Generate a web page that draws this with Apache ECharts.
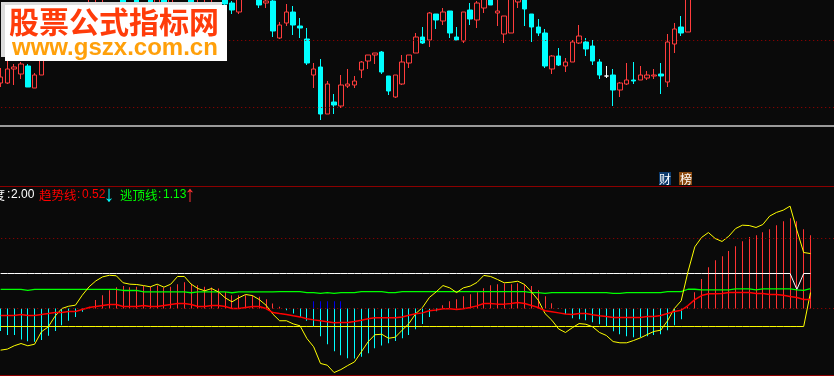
<!DOCTYPE html>
<html>
<head>
<meta charset="utf-8">
<title>股票公式指标网</title>
<script src="https://cdn.jsdelivr.net/npm/echarts@6/dist/echarts.min.js"></script>
<style>
html, body { margin: 0; padding: 0; background: #0a0a0a; }
#main { width: 834px; height: 376px; }
</style>
</head>
<body>
<div id="main"></div>
<script>
/*-----K线数据 S------*/
var openList = [
	47,47,61,56,64,42,55,88,80,96,
	106,90,108,102,104,108,120,100,130,106,
	130,110,131,118,131,118,124,106,131,104,
	108,110,120,135,127,118,150,134,138,127,
	129,92,107,118,104,91,55,63,16,28,
	24,44,45,60,69,75,78,54,33,46,
	67,77,93,90,116,109,119,93,89,120,
	110,122,133,117,96,97,128,133,116,103,
	97,61,74,64,68,87,88,84,68,54,
	55,40,46,50,50,52,54,56,48,86,
	103,98
];
var closeList = [
	53,61,63,66,43,55,90,75,100,108,
	92,104,96,118,122,124,104,116,112,120,
	116,122,114,132,120,132,110,122,116,120,
	124,126,104,126,120,134,134,148,125,129,
	99,105,118,105,102,67,61,16,46,25,
	45,46,49,68,75,77,58,39,55,68,
	75,93,87,117,110,118,97,90,118,111,
	127,133,125,119,114,135,132,121,103,97,
	64,74,65,68,88,94,81,69,55,54,
	40,47,50,49,55,55,55,54,88,101,
	97,138
];
var lowList = [
	43,46,45,51,43,42,55,72,78,92,
	88,86,92,100,100,104,100,96,106,102,
	112,106,110,114,116,114,106,102,112,100,
	104,106,100,124,116,116,133,133,122,122,
	93,91,104,95,92,65,42,10,16,16,
	22,42,42,52,61,66,56,35,32,45,
	62,77,86,83,101,105,92,90,87,105,
	102,117,125,104,87,97,122,104,88,94,
	62,56,64,58,68,86,74,65,51,52,
	24,33,45,46,50,50,51,36,43,77,
	94,98
];
var highList = [
	62,75,66,68,66,57,94,92,105,112,
	110,110,112,132,131,130,126,122,133,126,
	132,126,133,134,133,134,128,126,133,132,
	131,131,126,137,129,136,152,150,140,135,
	131,108,126,124,112,102,67,71,49,36,
	55,61,54,69,75,77,79,54,55,75,
	75,97,103,118,116,122,119,103,118,127,
	129,135,135,132,114,136,134,135,116,111,
	101,75,82,72,90,105,92,90,71,64,
	61,48,67,68,64,59,61,67,96,107,
	114,140
];
/*-----K线数据 E------*/

/*-----指标数据 S------*/
var barList = [
	-1.28,-1.52,-1.52,-1.77,-1.87,-1.9,-1.8,-1.56,-1.28,-.95,
	-.7,-.48,-.19,.1,.48,.76,1.05,1.22,1.28,1.22,
	1.24,1.28,1.24,1.31,1.2,1.24,1.39,1.5,1.41,1.33,
	1.24,1.2,1.14,.95,.76,.76,.76,.74,.67,.53,
	.29,.1,-.1,-.29,-.48,-.7,-1.01,-1.58,-2.04,-2.44,
	-2.67,-2.84,-2.86,-2.76,-2.55,-2.27,-2.11,-1.98,-1.85,-1.7,
	-1.52,-1.18,-.88,-.48,-.15,.19,.42,.53,.7,.82,
	.93,1.16,1.33,1.39,1.43,1.39,1.45,1.39,1.28,1.05,
	.7,.3,-.03,-.32,-.55,-.61,-.67,-.78,-.9,-1.01,
	-1.3,-1.47,-1.58,-1.64,-1.64,-1.58,-1.52,-1.47,-1.24,-.95,
	-.61,.08,.93,1.68,2.36,2.76,2.99,3.28,3.56,3.85,
	4.08,4.19,4.36,4.53,4.76,4.99,5.16,4.99,4.53,4.19
];
var blueIndex = [46,47,48,49,50];
var blueValue = .42;
var yellowList = [
	-2.38,-2.32,-2.13,-2,-2.13,-2.04,-1.33,-1.05,-.44,0,
	.13,.19,.76,1.24,1.58,1.81,1.9,1.87,1.47,1.39,
	1.37,1.31,1.24,1.39,1.22,1.39,1.83,1.83,1.39,1.14,
	1.01,1.14,.95,.61,.38,.61,.8,.74,.51,.19,
	-.32,-.7,-.7,-.88,-.99,-1.71,-2.19,-3.14,-3.24,-3.66,
	-3.49,-3.26,-3.05,-2.48,-1.9,-1.5,-1.47,-1.7,-1.64,-1.24,
	-.86,-.29,.06,.63,.95,1.31,1.18,.91,1.18,1.28,
	1.49,1.89,1.83,1.66,1.47,1.5,1.56,1.37,.95,.48,
	-.29,-.67,-1.17,-1.37,-1.1,-.86,-.9,-1.05,-1.37,-1.54,
	-1.89,-1.96,-1.96,-1.83,-1.68,-1.49,-1.31,-1.24,-.7,0,
	.44,2.1,3.52,4.06,4.34,4,3.83,4.13,4.57,4.76,
	4.74,4.63,4.8,5.28,5.49,5.62,5.85,4.48,3.2,3.14
];
var trendList = [
	-.4,-.4,-.4,-.34,-.4,-.4,-.34,-.29,-.23,-.23,
	-.17,-.17,-.06,.06,.11,.17,.23,.23,.11,.11,
	.11,.17,.11,.11,.17,.23,.29,.29,.23,.11,
	.11,.17,.17,.11,0,0,.06,.11,.11,0,
	-.23,-.29,-.34,-.42,-.48,-.59,-.65,-.7,-.76,-.82,
	-.8,-.8,-.74,-.67,-.59,-.53,-.53,-.53,-.53,-.48,
	-.38,-.3,-.25,-.13,-.08,-.02,-.02,-.06,-.02,.06,
	.15,.29,.29,.25,.25,.29,.34,.29,.17,.06,
	-.13,-.19,-.25,-.32,-.34,-.29,-.29,-.36,-.42,-.46,
	-.51,-.51,-.51,-.51,-.51,-.46,-.46,-.4,-.29,-.17,
	-.1,.17,.51,.74,.84,.84,.86,.91,.91,.91,
	.91,.86,.86,.8,.8,.76,.69,.63,.51,.52
];
var escapeList = [
	1.09,1.09,1.09,1.09,1.03,1.09,1.09,1.09,1.09,1.09,
	1.09,1.09,1.09,1.09,1.09,1.09,1.09,1.09,1.03,1.03,
	1.03,.95,.95,.95,.95,.95,.95,.95,.9,.95,
	.95,.95,.95,.95,.9,.95,.95,.95,.95,.95,
	.95,.96,.97,.97,.97,.91,.91,.86,.91,.86,
	.91,.91,.91,.97,.97,.97,.97,.91,.91,.97,
	.97,.97,.97,.97,.97,.97,.97,.97,.97,.97,
	.97,.97,.97,.97,.97,.97,.97,.97,.91,.91,
	.86,.91,.91,.91,.91,.91,.91,.91,.91,.91,
	.86,.86,.91,.91,.91,.91,.91,.91,.97,.97,
	.97,1.1,1.1,1.07,1.07,1.07,1.07,1.07,1.12,1.12,
	1.12,1.07,1.12,1.12,1.12,1.12,1.12,1.07,1.03,1.13
];
var whiteList = [
	2,2,2,2,2,2,2,2,2,2,
	2,2,2,2,2,2,2,2,2,2,
	2,2,2,2,2,2,2,2,2,2,
	2,2,2,2,2,2,2,2,2,2,
	2,2,2,2,2,2,2,2,2,2,
	2,2,2,2,2,2,2,2,2,2,
	2,2,2,2,2,2,2,2,2,2,
	2,2,2,2,2,2,2,2,2,2,
	2,2,2,2,2,2,2,2,2,2,
	2,2,2,2,2,2,2,2,2,2,
	2,2,2,2,2,2,2,2,2,2,
	2,2,2,2,2,2,2,1.09,2,2
];
var floorList = [
	-1.03,-1.03,-1.03,-1.03,-1.03,-1.03,-1.03,-1.03,-1.03,-1.03,
	-1.03,-1.03,-1.03,-1.03,-1.03,-1.03,-1.03,-1.03,-1.03,-1.03,
	-1.03,-1.03,-1.03,-1.03,-1.03,-1.03,-1.03,-1.03,-1.03,-1.03,
	-1.03,-1.03,-1.03,-1.03,-1.03,-1.03,-1.03,-1.03,-1.03,-1.03,
	-1.03,-1.03,-1.03,-1.03,-1.03,-1.03,-1.03,-1.03,-1.03,-1.03,
	-1.03,-1.03,-1.03,-1.03,-1.03,-1.03,-1.03,-1.03,-1.03,-1.03,
	-1.03,-1.03,-1.03,-1.03,-1.03,-1.03,-1.03,-1.03,-1.03,-1.03,
	-1.03,-1.03,-1.03,-1.03,-1.03,-1.03,-1.03,-1.03,-1.03,-1.03,
	-1.03,-1.03,-1.03,-1.03,-1.03,-1.03,-1.03,-1.03,-1.03,-1.03,
	-1.03,-1.03,-1.03,-1.03,-1.03,-1.03,-1.03,-1.03,-1.03,-1.03,
	-1.03,-1.03,-1.03,-1.03,-1.03,-1.03,-1.03,-1.03,-1.03,-1.03,
	-1.03,-1.03,-1.03,-1.03,-1.03,-1.03,-1.03,-1.03,-1.03,.91
];
/*-----指标数据 E------*/

var priceLevels = [89.5, 22.5];
var indicatorLevels = [4, 0];
var barCount = 123;

var categories = [];
for(var i = 0; i < barCount; i++){
	categories.push(i);
}

var candleList = [];
for(var i = 0; i < openList.length; i++){
	candleList.push([openList[i], closeList[i], lowList[i], highList[i]]);
}
var redBars = [];
var cyanBars = [];
var blueBars = [];
for(var i = 0; i < barList.length; i++){
	if(barList[i] > 0){
		redBars.push([i, barList[i]]);
	}
	if(barList[i] < 0){
		cyanBars.push([i, barList[i]]);
	}
	if(blueIndex.indexOf(i) >= 0){
		blueBars.push([i, blueValue]);
	}
}

function levelLines(levels){
	var list = [];
	for(var i = 0; i < levels.length; i++){
		list.push({yAxis: levels[i]});
	}
	return {
		silent: true,
		symbol: 'none',
		label: {show: false},
		animation: false,
		lineStyle: {color: '#a00000', type: [1, 3], width: 1},
		data: list
	};
}

// 1px wide stems snapped to whole pixels, the bar series blurs them
function barSeries(name, list, color){
	return {
		name: name,
		type: 'custom',
		xAxisIndex: 1,
		yAxisIndex: 1,
		encode: {x: 0, y: 1},
		renderItem: function(params, api){
			var top = api.coord([api.value(0), api.value(1)]);
			var base = api.coord([api.value(0), 0]);
			return {
				type: 'rect',
				shape: {
					x: Math.floor(top[0]),
					y: Math.min(top[1], base[1]),
					width: 1,
					height: Math.abs(top[1] - base[1])
				},
				style: {fill: color}
			};
		},
		data: list
	};
}

function lineSeries(name, list, color, width){
	return {
		name: name,
		type: 'line',
		xAxisIndex: 1,
		yAxisIndex: 1,
		symbol: 'none',
		lineStyle: {color: color, width: width},
		data: list
	};
}

function textItem(x, y, text, color, font){
	return {
		type: 'text',
		z: 100,
		x: x,
		y: y,
		style: {text: text, fill: color, font: font, textVerticalAlign: 'middle'}
	};
}

function boxItem(x, y, w, h, color){
	return {
		type: 'rect',
		z: 99,
		shape: {x: x, y: y, width: w, height: h},
		style: {fill: color}
	};
}

var cjkFont = '12.5px "Noto Sans CJK SC"';
var numFont = '12px "Liberation Sans"';
var arrowFont = 'bold 22px "Liberation Sans"';

var option = {
	animation: false,
	backgroundColor: '#0a0a0a',
	grid: [
		{left: -2.8, top: 0, width: 837.1, height: 130, outerBoundsMode: 'none'},
		{left: -2.8, top: 187, width: 837.1, height: 189, outerBoundsMode: 'none'}
	],
	xAxis: [
		{type: 'category', gridIndex: 0, data: categories, show: false},
		{type: 'category', gridIndex: 1, data: categories, show: false}
	],
	yAxis: [
		{type: 'value', gridIndex: 0, min: 0, max: 130, show: false},
		{type: 'value', gridIndex: 1, min: -3.857, max: 6.943, show: false}
	],
	series: [
		{
			name: 'K线',
			type: 'candlestick',
			xAxisIndex: 0,
			yAxisIndex: 0,
			barWidth: 5,
			itemStyle: {
				color: '#0a0a0a',
				color0: '#00ffff',
				borderColor: '#ff3c3c',
				borderColor0: '#00ffff',
				borderColorDoji: '#ffffff',
				borderWidth: 1
			},
			markLine: levelLines(priceLevels),
			data: candleList
		},
		barSeries('红柱', redBars, '#ff3232'),
		barSeries('绿柱', cyanBars, '#00ffff'),
		barSeries('蓝柱', blueBars, '#0000e6'),
		(function(){
			var s = lineSeries('底线', floorList, '#ffff00', 1);
			s.markLine = levelLines(indicatorLevels);
			return s;
		})(),
		lineSeries('顶线', whiteList, '#ffffff', 1),
		lineSeries('逃顶线', escapeList, '#00ff00', 1.3),
		lineSeries('强度', yellowList, '#ffff00', 1),
		lineSeries('趋势线', trendList, '#ff0000', 1.5)
	],
	graphic: [
		boxItem(0, 125, 834, 2, '#9a9a9a'),
		boxItem(0, 186, 834, 1, '#8c0000'),
		boxItem(0, 375, 834, 1, '#8c0000'),
		// 水印
		boxItem(1, 2, 221, 55, '#dcdcdc'),
		boxItem(5, 5, 222, 56, '#ffffff'),
		textItem(9, 22, '股票公式指标网', '#ff3c0a', 'bold 30px "Noto Sans CJK SC"'),
		textItem(12, 48, 'www.gszx.com.cn', '#ffa00a', 'bold 24px "Liberation Sans"'),
		// 财 榜
		boxItem(659, 172, 12, 13, '#0c3a6c'),
		boxItem(679, 172, 13, 13, '#8a4a10'),
		textItem(659, 179, '财', '#ffffff', '12px "Noto Sans CJK SC"'),
		textItem(680, 179, '榜', '#ffffff', '12px "Noto Sans CJK SC"'),
		// 指标标题
		textItem(-20, 195, '强度', '#ffffff', cjkFont),
		textItem(7, 195, ':', '#ffffff', numFont),
		textItem(11, 195, '2.00', '#ffffff', numFont),
		textItem(39, 195, '趋势线', '#ff0000', cjkFont),
		textItem(77, 195, ':', '#ff0000', numFont),
		textItem(82, 195, '0.52', '#ff0000', numFont),
		textItem(103.5, 195, '↓', '#00ffff', arrowFont),
		textItem(120, 195, '逃顶线', '#00ff00', cjkFont),
		textItem(158, 195, ':', '#00ff00', numFont),
		textItem(163, 195, '1.13', '#00ff00', numFont),
		textItem(184.5, 195, '↑', '#ff3232', arrowFont)
	]
};
echarts.init(document.getElementById('main')).setOption(option, true);
</script>
</body>
</html>
